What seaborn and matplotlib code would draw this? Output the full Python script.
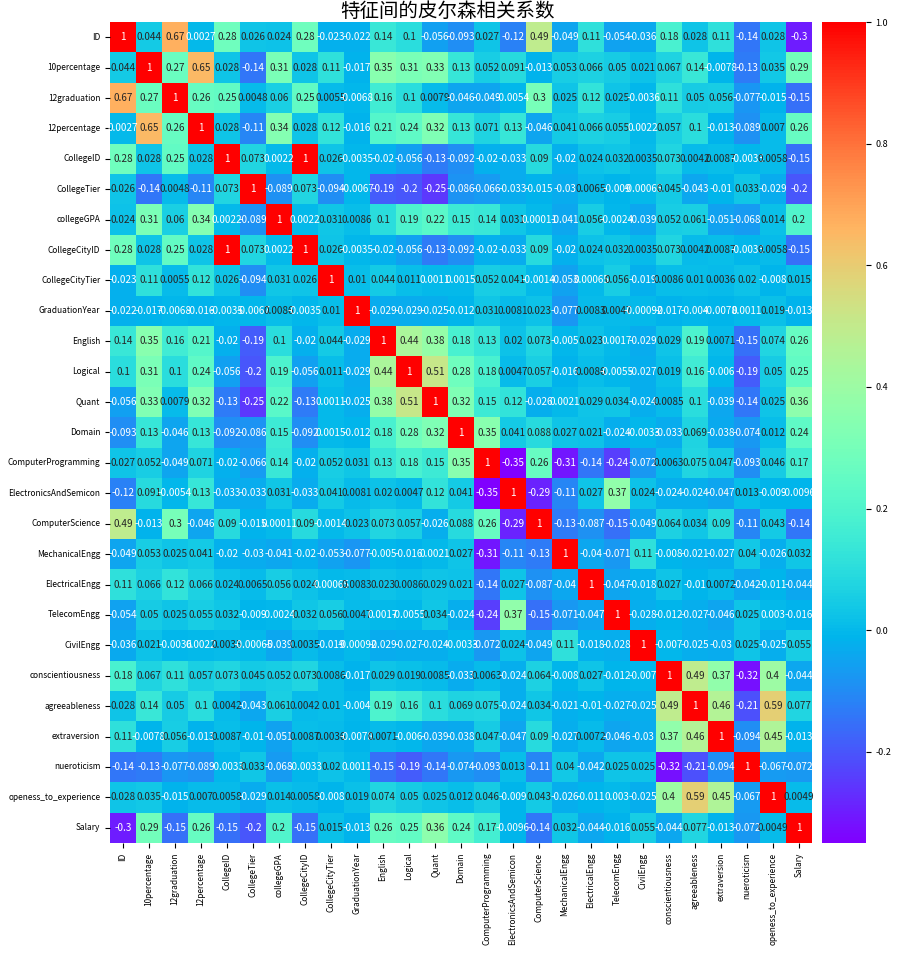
import numpy as np
import pandas as pd
import matplotlib
matplotlib.use("Agg")
import matplotlib.pyplot as plt
import seaborn as sns

plt.rcParams['font.family'] = ['Noto Sans CJK SC', 'DejaVu Sans']
plt.rcParams['axes.unicode_minus'] = False

features = ["ID", "10percentage", "12graduation", "12percentage", "CollegeID",
            "CollegeTier", "collegeGPA", "CollegeCityID", "CollegeCityTier",
            "GraduationYear", "English", "Logical", "Quant", "Domain",
            "ComputerProgramming", "ElectronicsAndSemicon", "ComputerScience",
            "MechanicalEngg", "ElectricalEngg", "TelecomEngg", "CivilEngg",
            "conscientiousness", "agreeableness", "extraversion", "nueroticism",
            "openess_to_experience", "Salary"]

# upper triangle of the correlation matrix, row i holds columns i+1 .. end
r0 = [0.044, 0.67, 0.0027, 0.28, 0.026, 0.024, 0.28, -0.023, -0.022, 0.14, 0.1, -0.056, -0.093,
      0.027, -0.12, 0.49, -0.049, 0.11, -0.054, -0.036, 0.18, 0.028, 0.11, -0.14, 0.028, -0.3]
r1 = [0.27, 0.65, 0.028, -0.14, 0.31, 0.028, 0.11, -0.017, 0.35, 0.31, 0.33, 0.13, 0.052, 0.091,
      -0.013, 0.053, 0.066, 0.05, 0.021, 0.067, 0.14, -0.0078, -0.13, 0.035, 0.29]
r2 = [0.26, 0.25, 0.0048, 0.06, 0.25, 0.0055, -0.0068, 0.16, 0.1, 0.0079, -0.046, -0.049, -0.0054,
      0.3, 0.025, 0.12, 0.025, -0.0036, 0.11, 0.05, 0.056, -0.077, -0.015, -0.15]
r3 = [0.028, -0.11, 0.34, 0.028, 0.12, -0.016, 0.21, 0.24, 0.32, 0.13, 0.071, 0.13, -0.046, 0.041,
      0.066, 0.055, 0.0022, 0.057, 0.1, -0.013, -0.089, 0.007, 0.26]
r4 = [0.073, 0.0022, 1, 0.026, -0.0035, -0.02, -0.056, -0.13, -0.092, -0.02, -0.033, 0.09, -0.02,
      0.024, 0.032, 0.0035, 0.073, 0.0042, 0.0087, -0.0033, 0.0058, -0.15]
r5 = [-0.089, 0.073, -0.094, -0.0067, -0.19, -0.2, -0.25, -0.086, -0.066, -0.033, -0.015, -0.03,
      0.0065, -0.009, -0.00065, 0.045, -0.043, -0.01, 0.033, -0.029, -0.2]
r6 = [0.0022, 0.031, 0.0086, 0.1, 0.19, 0.22, 0.15, 0.14, 0.031, 0.00011, -0.041, 0.056, -0.0024,
      -0.039, 0.052, 0.061, -0.051, -0.068, 0.014, 0.2]
r7 = [0.026, -0.0035, -0.02, -0.056, -0.13, -0.092, -0.02, -0.033, 0.09, -0.02, 0.024, 0.032,
      0.0035, 0.073, 0.0042, 0.0087, -0.0033, 0.0058, -0.15]
r8 = [0.01, 0.044, 0.011, 0.0011, 0.0015, 0.052, 0.041, -0.0014, -0.053, 0.00065, 0.056, -0.019,
      0.0086, 0.01, 0.0036, 0.02, -0.008, 0.015]
r9 = [-0.029, -0.029, -0.025, -0.012, 0.031, 0.0081, 0.023, -0.077, 0.0083, 0.0047, -0.00092,
      -0.017, -0.004, -0.0078, 0.0011, 0.019, -0.013]
r10 = [0.44, 0.38, 0.18, 0.13, 0.02, 0.073, -0.005, 0.023, 0.0017, -0.029, 0.029, 0.19, 0.0071,
       -0.15, 0.074, 0.26]
r11 = [0.51, 0.28, 0.18, 0.0047, 0.057, -0.016, 0.0086, -0.0055, -0.027, 0.019, 0.16, -0.006,
       -0.19, 0.05, 0.25]
r12 = [0.32, 0.15, 0.12, -0.026, 0.0021, 0.029, 0.034, -0.024, 0.0085, 0.1, -0.039, -0.14, 0.025, 0.36]
r13 = [0.35, 0.041, 0.088, 0.027, 0.021, -0.024, -0.0033, -0.033, 0.069, -0.038, -0.074, 0.012, 0.24]
r14 = [-0.35, 0.26, -0.31, -0.14, -0.24, -0.072, 0.0063, 0.075, 0.047, -0.093, 0.046, 0.17]
r15 = [-0.29, -0.11, 0.027, 0.37, 0.024, -0.024, -0.024, -0.047, 0.013, -0.009, -0.0096]
r16 = [-0.13, -0.087, -0.15, -0.049, 0.064, 0.034, 0.09, -0.11, 0.043, -0.14]
r17 = [-0.04, -0.071, 0.11, -0.008, -0.021, -0.027, 0.04, -0.026, 0.032]
r18 = [-0.047, -0.018, 0.027, -0.01, 0.0072, -0.042, -0.011, -0.044]
r19 = [-0.028, -0.012, -0.027, -0.046, 0.025, 0.003, -0.016]
r20 = [-0.007, -0.025, -0.03, 0.025, -0.025, 0.055]
r21 = [0.49, 0.37, -0.32, 0.4, -0.044]
r22 = [0.46, -0.21, 0.59, 0.077]
r23 = [-0.094, 0.45, -0.013]
r24 = [-0.067, -0.072]
r25 = [0.0049]

upper_rows = [r0, r1, r2, r3, r4, r5, r6, r7, r8, r9, r10, r11, r12, r13, r14, r15, r16,
              r17, r18, r19, r20, r21, r22, r23, r24, r25]

n = len(features)
mat = np.eye(n)
for i, row in enumerate(upper_rows):
    for k, v in enumerate(row):
        j = i + 1 + k
        mat[i, j] = v
        mat[j, i] = v
corr = pd.DataFrame(mat, index=features, columns=features)

W, H = 901, 955
fig = plt.figure(figsize=(W / 100, H / 100), dpi=100)
ax = fig.add_axes([110 / W, 1 - 843 / H, 702 / W, 821 / H])
cax = fig.add_axes([822 / W, 1 - 843 / H, 44 / W, 821 / H])

sns.heatmap(corr, annot=True, cmap="rainbow", ax=ax, cbar_ax=cax,
            annot_kws={"fontsize": 7.2})
fig.suptitle("特征间的皮尔森相关系数", fontsize=14, x=0.497, y=0.999, va='top')
ax.tick_params(axis='both', labelsize=6)
ax.set_xticklabels(ax.get_xticklabels(), rotation=90)
ax.set_yticklabels(ax.get_yticklabels(), rotation=0)
cax.tick_params(labelsize=6.5)

fig.savefig("out.png", dpi=100)
